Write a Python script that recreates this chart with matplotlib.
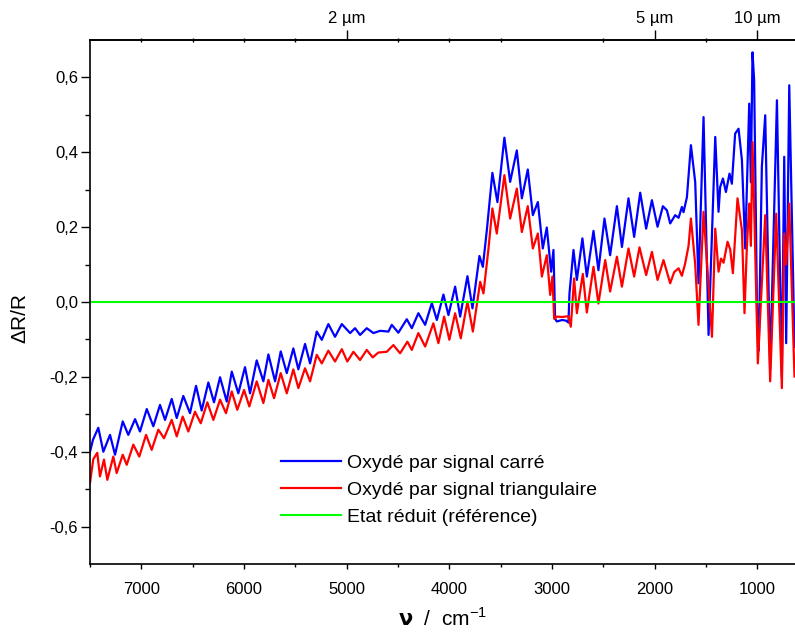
import numpy as np
import matplotlib
matplotlib.use("Agg")
from matplotlib import pyplot as plt
from matplotlib.ticker import FixedLocator

plt.rcParams['font.family'] = ['Liberation Sans', 'DejaVu Sans']
plt.rcParams['mathtext.fontset'] = 'custom'
plt.rcParams['mathtext.rm'] = 'Liberation Sans'
plt.rcParams['mathtext.bf'] = 'DejaVu Sans:bold'

# oxydé par signal carré (blue)
wn_carre = [7500, 7471, 7419, 7370, 7305, 7256, 7181, 7127, 7061, 7013,
            6947, 6883, 6818, 6769, 6704, 6655, 6591, 6526, 6467, 6412,
            6347, 6292, 6233, 6168, 6119, 6055, 5990, 5941, 5876, 5811,
            5762, 5697, 5642, 5583, 5519, 5470, 5405, 5356, 5291, 5242,
            5178, 5113, 5047, 4966, 4918, 4869, 4804, 4739, 4674, 4593,
            4560, 4496, 4414, 4365, 4301, 4235, 4170, 4121, 4057, 4008,
            3943, 3894, 3823, 3774, 3706, 3673, 3634, 3580, 3531, 3463,
            3407, 3342, 3293, 3235, 3186, 3137, 3089, 3050, 3008, 2985,
            2969, 2952, 2900, 2861, 2839, 2829, 2790, 2757, 2703, 2660,
            2595, 2547, 2488, 2433, 2367, 2318, 2254, 2199, 2140, 2082,
            2026, 1971, 1919, 1880, 1848, 1799, 1766, 1734, 1718, 1685,
            1646, 1604, 1572, 1523, 1474, 1409, 1377, 1361, 1334, 1305,
            1270, 1247, 1215, 1182, 1149, 1117, 1078, 1062, 1046, 1030,
            1003, 985, 955, 922, 874, 808, 760, 737, 718, 688, 637]
dr_carre = [-0.40, -0.368, -0.336, -0.40, -0.355, -0.408, -0.319, -0.355, -0.313, -0.346,
            -0.286, -0.332, -0.275, -0.315, -0.259, -0.31, -0.251, -0.297, -0.224, -0.29,
            -0.215, -0.268, -0.201, -0.266, -0.186, -0.244, -0.174, -0.244, -0.156, -0.212,
            -0.14, -0.212, -0.132, -0.19, -0.124, -0.18, -0.112, -0.164, -0.079, -0.101,
            -0.059, -0.093, -0.059, -0.083, -0.070, -0.088, -0.070, -0.083, -0.077, -0.079,
            -0.061, -0.082, -0.046, -0.070, -0.030, -0.061, -0.003, -0.048, 0.02, -0.035,
            0.041, -0.039, 0.069, -0.017, 0.123, 0.094, 0.192, 0.345, 0.267, 0.439,
            0.321, 0.405, 0.277, 0.354, 0.232, 0.267, 0.143, 0.199, 0.081, 0.139,
            -0.045, -0.052, -0.048, -0.05, -0.055, 0.023, 0.139, 0.059, 0.170, 0.068,
            0.190, 0.085, 0.223, 0.125, 0.256, 0.147, 0.277, 0.174, 0.292, 0.196,
            0.272, 0.201, 0.256, 0.245, 0.21, 0.232, 0.225, 0.254, 0.24, 0.28,
            0.419, 0.32, 0.05, 0.494, -0.088, 0.441, 0.241, 0.307, 0.33, 0.294,
            0.343, 0.316, 0.45, 0.463, 0.379, 0.143, 0.53, 0.32, 0.667, 0.592,
            0.0, -0.13, 0.361, 0.499, -0.18, 0.539, -0.2, 0.388, -0.11, 0.579, -0.12]

# oxydé par signal triangulaire (red)
wn_tri = [7500, 7468, 7429, 7403, 7364, 7331, 7273, 7240, 7181, 7142,
          7078, 7020, 6954, 6899, 6834, 6779, 6704, 6655, 6597, 6542,
          6477, 6421, 6357, 6298, 6233, 6175, 6119, 6065, 5999, 5948,
          5876, 5811, 5762, 5707, 5642, 5583, 5519, 5470, 5405, 5356,
          5291, 5242, 5178, 5113, 5047, 4993, 4934, 4869, 4804, 4746,
          4691, 4609, 4544, 4479, 4408, 4365, 4301, 4235, 4155, 4106,
          4050, 3999, 3943, 3888, 3823, 3770, 3699, 3667, 3619, 3580,
          3537, 3463, 3407, 3342, 3293, 3235, 3186, 3137, 3098, 3050,
          3017, 2995, 2978, 2952, 2900, 2839, 2816, 2784, 2757, 2699,
          2660, 2595, 2547, 2481, 2433, 2367, 2318, 2254, 2199, 2147,
          2082, 2026, 1971, 1913, 1848, 1809, 1766, 1734, 1702, 1669,
          1646, 1604, 1572, 1523, 1441, 1409, 1377, 1353, 1328, 1289,
          1263, 1237, 1192, 1149, 1124, 1101, 1078, 1062, 1046, 1025,
          994, 922, 874, 815, 760, 737, 718, 688, 637]
dr_tri = [-0.483, -0.42, -0.403, -0.466, -0.421, -0.475, -0.413, -0.457, -0.408, -0.435,
          -0.381, -0.413, -0.355, -0.395, -0.341, -0.364, -0.315, -0.359, -0.306, -0.346,
          -0.293, -0.324, -0.268, -0.315, -0.261, -0.297, -0.239, -0.288, -0.235, -0.279,
          -0.212, -0.27, -0.208, -0.257, -0.19, -0.244, -0.18, -0.23, -0.177, -0.212,
          -0.141, -0.164, -0.13, -0.159, -0.126, -0.159, -0.133, -0.155, -0.128, -0.148,
          -0.135, -0.133, -0.115, -0.137, -0.106, -0.128, -0.083, -0.119, -0.057, -0.11,
          -0.039, -0.101, -0.030, -0.097, 0.001, -0.079, 0.054, 0.023, 0.14, 0.25,
          0.183, 0.339, 0.223, 0.303, 0.187, 0.256, 0.143, 0.183, 0.068, 0.125,
          0.019, 0.068, -0.045, -0.039, -0.04, -0.038, -0.066, 0.063, -0.03, 0.075,
          -0.028, 0.094, -0.004, 0.112, 0.028, 0.121, 0.041, 0.143, 0.068, 0.146,
          0.072, 0.134, 0.059, 0.112, 0.05, 0.08, 0.09, 0.07, 0.103, 0.15,
          0.223, 0.10, -0.061, 0.241, -0.093, 0.196, 0.081, 0.116, 0.105, 0.161,
          0.14, 0.077, 0.277, 0.192, -0.03, 0.147, 0.263, 0.15, 0.427, 0.2,
          -0.164, 0.232, -0.212, 0.236, -0.23, 0.183, 0.10, 0.263, -0.199]

ref_level = 0.0

labels = ['Oxydé par signal carré', 'Oxydé par signal triangulaire',
          'Etat réduit (référence)']

xticks = [7000, 6000, 5000, 4000, 3000, 2000, 1000]
xminor = [7500, 6500, 5500, 4500, 3500, 2500, 1500]
yticks = [-0.6, -0.4, -0.2, 0.0, 0.2, 0.4, 0.6]
ytick_labels = ['-0,6', '-0,4', '-0,2', '0,0', '0,2', '0,4', '0,6']
yminor = [-0.5, -0.3, -0.1, 0.1, 0.3, 0.5]
top_um = [2, 5, 10]

fig = plt.figure(figsize=(7.95, 6.36), dpi=100)
ax = fig.add_axes([0.1132, 0.1132, 0.8868, 0.8239])

ax.plot(wn_carre, dr_carre, color='#0000ff', lw=1.6, label=labels[0],
        solid_joinstyle='round')
ax.plot(wn_tri, dr_tri, color='#ff0000', lw=1.6, label=labels[1],
        solid_joinstyle='round')
ax.axhline(ref_level, color='#00ff00', lw=1.5, label=labels[2])

ax.set_xlim(7500, 632)
ax.set_ylim(-0.7, 0.7)

ax.set_xticks(xticks)
ax.set_xticklabels([str(v) for v in xticks])
ax.xaxis.set_minor_locator(FixedLocator(xminor))
ax.set_yticks(yticks)
ax.set_yticklabels(ytick_labels)
ax.yaxis.set_minor_locator(FixedLocator(yminor))

ax.tick_params(axis='both', which='both', direction='out', width=1, labelsize=12)
ax.tick_params(axis='y', which='major', length=6.5, pad=2)
ax.tick_params(axis='y', which='minor', length=3.6)
ax.tick_params(axis='x', which='major', length=3.6, pad=9)
ax.tick_params(axis='x', which='minor', length=2.5)

for s in ['left', 'bottom', 'top']:
    ax.spines[s].set_linewidth(1.2)
ax.spines['right'].set_visible(False)

# wavelength axis on top
sec = ax.secondary_xaxis('top')
sec.set_xticks([1e4 / u for u in top_um])
sec.set_xticklabels(['%d µm' % u for u in top_um])
sec.xaxis.set_minor_locator(FixedLocator(xticks[:4] + xminor[1:]))
sec.tick_params(axis='x', which='major', direction='out', length=7, width=1, pad=3, labelsize=12)
sec.tick_params(axis='x', which='minor', direction='inout', length=2.5, width=1)
sec.spines['top'].set_linewidth(1.2)

ax.set_xlabel(r'$\mathbf{\nu}$  /  cm$^{-1}$', fontsize=15, labelpad=8)
fig.text(20 / 795, 1 - 318 / 636, 'ΔR/R', rotation=90, ha='center', va='center', fontsize=15)

ax.legend(loc='upper left', bbox_to_anchor=(281 / 795, 1 - 454 / 636),
          bbox_transform=fig.transFigure, frameon=False, fontsize=14,
          borderpad=0, borderaxespad=0, handlelength=3.1, handletextpad=0.3,
          labelspacing=0.5)

fig.savefig('out.png', dpi=100)
